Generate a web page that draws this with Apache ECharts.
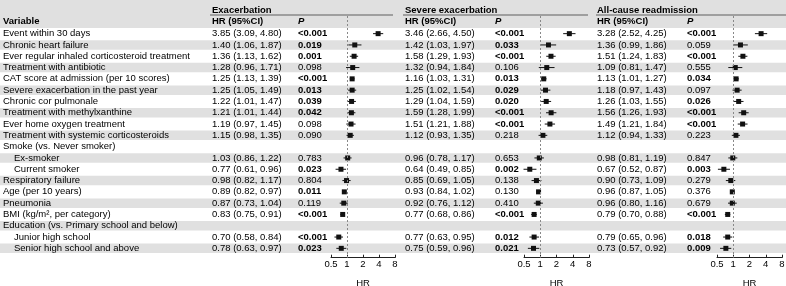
<!DOCTYPE html>
<html><head><meta charset="utf-8">
<script src="https://cdn.jsdelivr.net/npm/echarts@6/dist/echarts.min.js"></script>
<style>html,body{margin:0;padding:0;background:#fff}#c{width:786px;height:286px}</style>
</head><body><div id="c"></div>
<script>
// ---------------- data ----------------
const variables = [
  'Event within 30 days','Chronic heart failure','Ever regular inhaled corticosteroid treatment',
  'Treatment with antibiotic','CAT score at admission (per 10 scores)','Severe exacerbation in the past year',
  'Chronic cor pulmonale','Treatment with methylxanthine','Ever home oxygen treatment',
  'Treatment with systemic corticosteroids','Smoke (vs. Never smoker)','Ex-smoker','Current smoker',
  'Respiratory failure','Age (per 10 years)','Pneumonia','BMI (kg/m\u00b2, per category)',
  'Education (vs. Primary school and below)','Junior high school','Senior high school and above'
];
const indented = [0,0,0,0,0,0,0,0,0,0,0,1,1,0,0,0,0,0,1,1];
const panelTitles = ['Exacerbation','Severe exacerbation','All-cause readmission'];
const axisTicks = [0.5, 1, 2, 4, 8];

const exacHR = [3.85,1.40,1.36,1.28,1.25,1.25,1.22,1.21,1.19,1.15,null,1.03,0.77,0.98,0.89,0.87,0.83,null,0.70,0.78];
const exacLo = [3.09,1.06,1.13,0.96,1.13,1.05,1.01,1.01,0.97,0.98,null,0.86,0.61,0.82,0.82,0.73,0.75,null,0.58,0.63];
const exacHi = [4.80,1.87,1.62,1.71,1.39,1.49,1.47,1.44,1.45,1.35,null,1.22,0.96,1.17,0.97,1.04,0.91,null,0.84,0.97];
const exacP  = ['<0.001','0.019','0.001','0.098','<0.001','0.013','0.039','0.042','0.098','0.090','','0.783','0.023','0.804','0.011','0.119','<0.001','','<0.001','0.023'];

const sevHR = [3.46,1.42,1.58,1.32,1.16,1.25,1.29,1.59,1.51,1.12,null,0.96,0.64,0.85,0.93,0.92,0.77,null,0.77,0.75];
const sevLo = [2.66,1.03,1.29,0.94,1.03,1.02,1.04,1.28,1.21,0.93,null,0.78,0.49,0.69,0.84,0.76,0.68,null,0.63,0.59];
const sevHi = [4.50,1.97,1.93,1.84,1.31,1.54,1.59,1.99,1.88,1.35,null,1.17,0.85,1.05,1.02,1.12,0.86,null,0.95,0.96];
const sevP  = ['<0.001','0.033','<0.001','0.106','0.013','0.029','0.020','<0.001','<0.001','0.218','','0.653','0.002','0.138','0.130','0.410','<0.001','','0.012','0.021'];

const readHR = [3.28,1.36,1.51,1.09,1.13,1.18,1.26,1.56,1.49,1.12,null,0.98,0.67,0.90,0.96,0.96,0.79,null,0.79,0.73];
const readLo = [2.52,0.99,1.24,0.81,1.01,0.97,1.03,1.26,1.21,0.94,null,0.81,0.52,0.73,0.87,0.80,0.70,null,0.65,0.57];
const readHi = [4.25,1.86,1.83,1.47,1.27,1.43,1.55,1.93,1.84,1.33,null,1.19,0.87,1.09,1.05,1.16,0.88,null,0.96,0.92];
const readP  = ['<0.001','0.059','<0.001','0.555','0.034','0.097','0.026','<0.001','<0.001','0.223','','0.847','0.003','0.279','0.376','0.679','<0.001','','0.018','0.009'];

// ---------------- layout ----------------
const FONT = '"Liberation Sans", Arial, Helvetica, sans-serif';
const FS = 9.5;
const W = 786, H = 286;
const rowTop = 28, pitch = 11.3, nRows = variables.length;
const plotTop = 16, axisY = 257.7;
const bandColor = '#e0e0e0';
const panels = [
  {hr: exacHR, lo: exacLo, hi: exacHi, p: exacP, hrX: 212, pX: 298, axL: 331, axR: 395, ulL: 210, ulR: 393},
  {hr: sevHR,  lo: sevLo,  hi: sevHi,  p: sevP,  hrX: 405, pX: 495, axL: 524, axR: 589, ulL: 403, ulR: 588},
  {hr: readHR, lo: readLo, hi: readHi, p: readP, hrX: 597, pX: 687, axL: 717, axR: 782, ulL: 596, ulR: 786}
];

function isSig(p){ if(!p) return false; if(p.charAt(0)==='<') return true; return parseFloat(p) < 0.05; }
function fmtCI(h,l,u){ return h==null ? '' : h.toFixed(2)+' ('+l.toFixed(2)+', '+u.toFixed(2)+')'; }

const chart = echarts.init(document.getElementById('c'), null, {renderer:'canvas'});

const grids = [{left: 0, right: 0, top: rowTop, height: pitch*nRows, containLabel: false, outerBoundsMode: 'none'}];
const xAxes = [{gridIndex: 0, type: 'value', min: 0, max: 1, show: false}];
const yAxes = [];
const series = [];

function textAxis(data, x, formatter, rich){
  return {gridIndex: 0, type: 'category', inverse: true, data: data, position: 'left', offset: -x, z: 5,
    axisLine: {show: false}, axisTick: {show: false}, splitLine: {show: false},
    axisLabel: {show: true, inside: true, margin: 0, interval: 0, align: 'left', color: '#000',
      fontFamily: FONT, fontSize: FS, formatter: formatter, rich: rich}};
}

// band axis + band bars
yAxes.push({gridIndex: 0, type: 'category', inverse: true, data: variables, show: false});
series.push({type: 'bar', xAxisIndex: 0, yAxisIndex: 0, barWidth: 9.5, silent: true, z: 1,
  itemStyle: {color: bandColor}, data: variables.map((v,i)=> i%2===1 ? 1 : '-'), animation: false});

// variable names
yAxes.push(textAxis(variables, 3, (v, i) => indented[i] ? '{ind|'+v+'}' : v,
  {ind: {padding: [0,0,0,11], fontFamily: FONT, fontSize: FS, color: '#000'}}));

panels.forEach((pn, k) => {
  const hrText = pn.hr.map((h,i)=> fmtCI(h, pn.lo[i], pn.hi[i]));
  yAxes.push(textAxis(hrText, pn.hrX, v => v));
  yAxes.push(textAxis(pn.p, pn.pX, (v,i) => isSig(pn.p[i]) ? '{b|'+v+'}' : v,
    {b: {fontWeight: 'bold', fontFamily: FONT, fontSize: FS, color: '#000'}}));

  const gi = grids.length;
  grids.push({left: pn.axL, width: pn.axR - pn.axL, top: plotTop, height: axisY - plotTop,
    containLabel: false, outerBoundsMode: 'none'});
  xAxes.push({gridIndex: gi, type: 'log', logBase: 2, min: 0.5, max: 8, position: 'bottom',
    name: 'HR', nameLocation: 'middle', nameGap: 20.5,
    nameTextStyle: {fontFamily: FONT, fontSize: FS, color: '#000'},
    axisLine: {show: true, onZero: false, lineStyle: {color: '#222', width: 1}},
    axisTick: {show: true, inside: true, length: 3, lineStyle: {color: '#222'}},
    axisLabel: {show: true, margin: 2, fontFamily: FONT, fontSize: FS, color: '#000',
      formatter: v => String(+(+v).toPrecision(3))},
    splitLine: {show: false}});
  const yi = yAxes.length;
  yAxes.push({gridIndex: gi, type: 'value', inverse: true, show: false,
    axisLine: {onZero: false},
    min: -0.5 - (rowTop - plotTop)/pitch, max: -0.5 + (axisY - rowTop)/pitch});
  const pts = [];
  pn.hr.forEach((h,i)=>{ if(h!=null) pts.push([h, i, pn.lo[i], pn.hi[i]]); });
  series.push({type: 'custom', xAxisIndex: gi, yAxisIndex: yi, z: 4, silent: true, clip: false,
    dimensions: ['hr','row','lo','hi'], encode: {x: 0, y: 1},
    data: pts,
    renderItem: (params, api) => {
      const c = api.coord([api.value(0), api.value(1)]);
      const a = api.coord([api.value(2), api.value(1)]);
      const b = api.coord([api.value(3), api.value(1)]);
      const s = 5;
      return {type: 'group', children: [
        {type: 'line', shape: {x1: a[0], y1: c[1], x2: b[0], y2: c[1]}, style: {stroke: '#111', lineWidth: 1}},
        {type: 'rect', shape: {x: c[0]-s/2, y: c[1]-s/2, width: s, height: s}, style: {fill: '#111'}}
      ]};
    },
    markLine: {silent: true, symbol: 'none', label: {show: false}, animation: false,
      lineStyle: {color: '#888', type: [2,2], width: 1}, data: [{xAxis: 1}]}
  });
});

// header graphics
const graphics = [{type: 'rect', shape: {x: 0, y: 0, width: W, height: rowTop}, style: {fill: bandColor}, z: -10}];
const hdrY = rowTop - pitch/2 - 0.5;
const titleY = 10;
graphics.push({type: 'text', x: 3, y: hdrY, z: 10, style: {text: 'Variable', font: 'bold '+FS+'px '+FONT, fill: '#000', verticalAlign: 'middle'}});
panels.forEach((pn,k)=>{
  graphics.push({type: 'text', x: pn.hrX, y: titleY, z: 10, style: {text: panelTitles[k], font: 'bold '+FS+'px '+FONT, fill: '#000', verticalAlign: 'middle'}});
  graphics.push({type: 'line', z: 10, shape: {x1: pn.ulL, y1: 15, x2: pn.ulR, y2: 15}, style: {stroke: '#8a8a8a', lineWidth: 1.5}});
  graphics.push({type: 'text', x: pn.hrX, y: hdrY, z: 10, style: {text: 'HR (95%CI)', font: 'bold '+FS+'px '+FONT, fill: '#000', verticalAlign: 'middle'}});
  graphics.push({type: 'text', x: pn.pX, y: hdrY, z: 10, style: {text: 'P', font: 'italic bold '+FS+'px '+FONT, fill: '#000', verticalAlign: 'middle'}});
});

chart.setOption({
  animation: false,
  backgroundColor: '#fff',
  grid: grids, xAxis: xAxes, yAxis: yAxes, series: series,
  graphic: {elements: graphics}
});
</script></body></html>
